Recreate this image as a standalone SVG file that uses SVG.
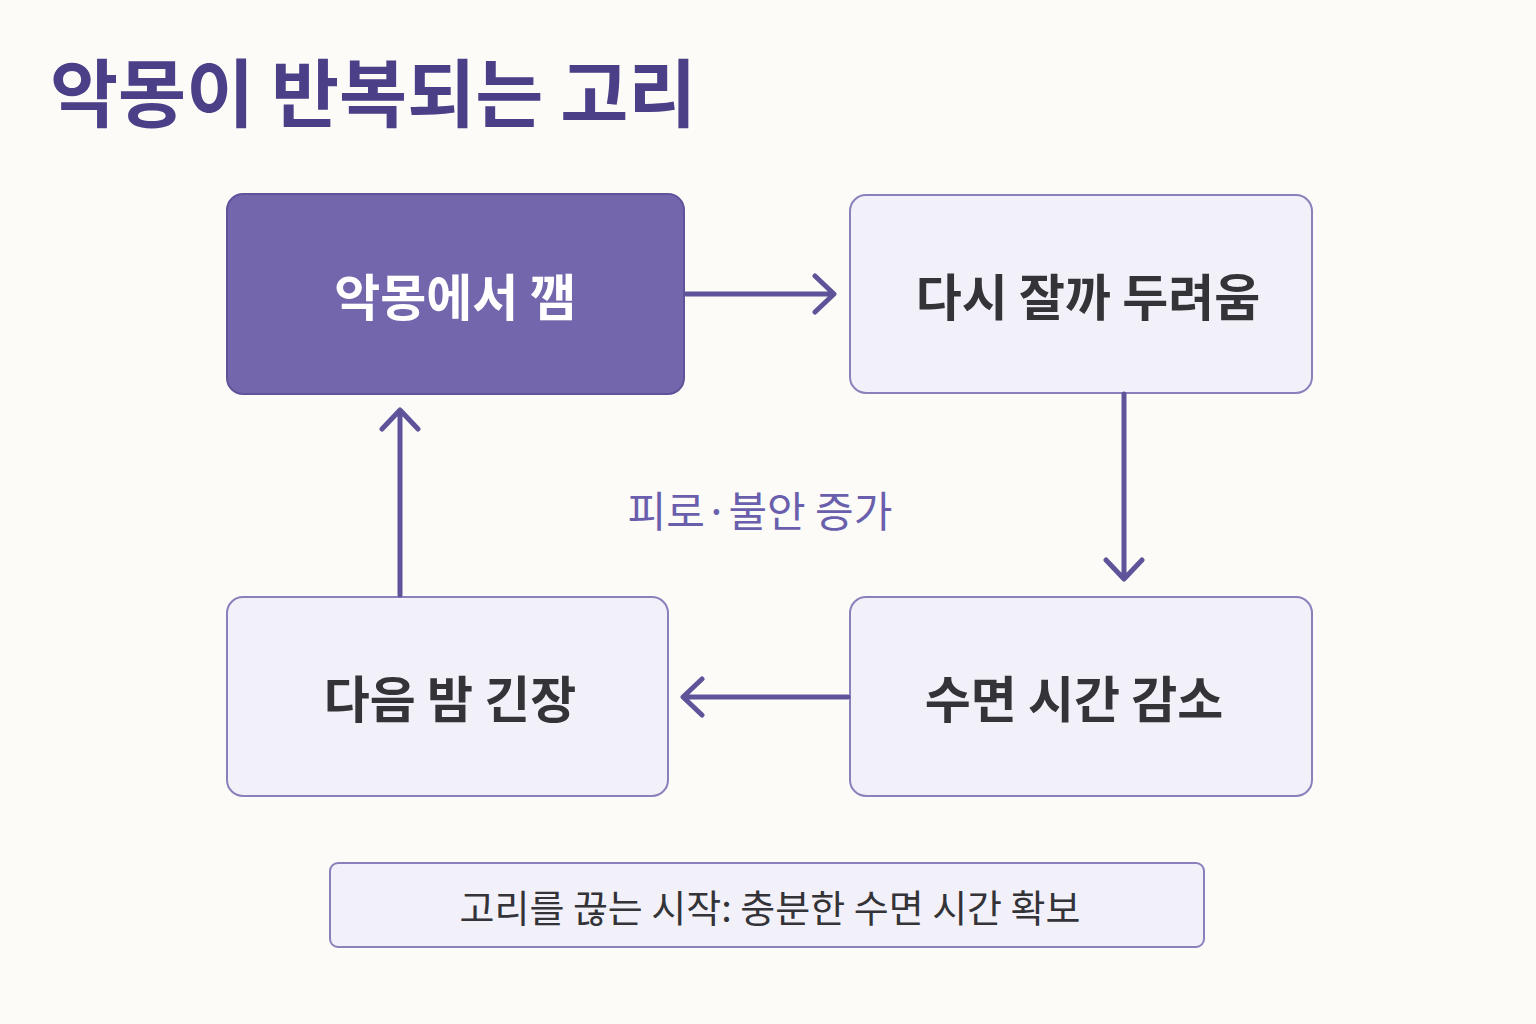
<svg xmlns="http://www.w3.org/2000/svg" width="1536" height="1024" viewBox="0 0 1536 1024">
<style>
text{font-family:"Noto Sans CJK KR","Noto Sans",sans-serif;text-anchor:middle;dominant-baseline:central}
.box{fill:#f2f0f8;stroke:#8a80bb;stroke-width:2}
.lbl{font-size:50px;font-weight:700;fill:#333338}
.con{stroke:#5f5499;stroke-width:5;fill:none;stroke-linecap:round;stroke-linejoin:round}
</style>
<rect width="1536" height="1024" fill="#fcfbf8"/>
<text x="50" y="88" style="text-anchor:start;font-size:74px;font-weight:700;fill:#4b4088">악몽이 반복되는 고리</text>
<g id="n1"><rect x="227" y="194" width="457" height="200" rx="16" fill="#7366ad" stroke="#5f5499" stroke-width="2"/><text x="455" y="294" class="lbl" fill="#fff" style="fill:#fff">악몽에서 깸</text></g>
<g id="n2"><rect class="box" x="850" y="195" width="462" height="198" rx="16"/><text x="1088" y="294" class="lbl">다시 잘까 두려움</text></g>
<g id="n3"><rect class="box" x="850" y="597" width="462" height="199" rx="16"/><text x="1074" y="696" class="lbl">수면 시간 감소</text></g>
<g id="n4"><rect class="box" x="227" y="597" width="441" height="199" rx="16"/><text x="450" y="696" class="lbl">다음 밤 긴장</text></g>
<g id="connectors" class="con">
<path d="M686 294H833M815 276L834 294L815 312"/>
<path d="M1124 394V578M1106 560L1124 579L1142 560"/>
<path d="M848 697H684M702 679L683 697L702 715"/>
<path d="M400 595V411M382 429L400 410L418 429"/>
</g>
<text x="760" y="508" style="font-size:42px;fill:#6a5fad">피로·불안 증가</text>
<g id="note"><rect class="box" x="330" y="863" width="874" height="84" rx="8"/><text x="770" y="905" style="font-size:38px;fill:#333338">고리를 끊는 시작: 충분한 수면 시간 확보</text></g>
</svg>
